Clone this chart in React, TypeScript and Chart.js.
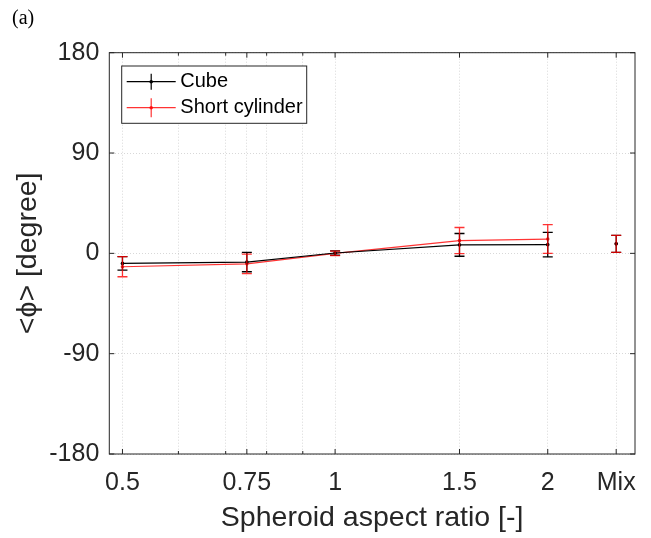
import { useEffect, useRef } from "react";
import { Chart, registerables } from "chart.js";
import type { ChartConfiguration, Plugin } from "chart.js";

Chart.register(...registerables);

// aspect ratios; "Mix" is plotted at 2.5 on the log axis
const xValues = [0.5, 0.75, 1, 1.5, 2, 2.5];
const xTickLabels = ["0.5", "0.75", "1", "1.5", "2", "Mix"];
const xMinorTicks = [0.6, 0.7, 0.8, 0.9];
const yTicks = [-180, -90, 0, 90, 180];

const cubeMean = [-9, -7.8, 0.3, 7.6, 7.8, 8.5];
const cubeErr = [6, 8.7, 2, 10.2, 11, 7.6];
const cylMean = [-12, -9.4, 0, 11.5, 12.8, 8.5];
const cylErr = [9, 8.7, 2, 11.7, 12.9, 7.6];

const FONT = "'Liberation Sans', Arial, Helvetica, sans-serif";
const INK = "#262626";
const RED = "rgba(255,0,0,0.8)";

const decorations: Plugin<"line"> = {
  id: "decorations",
  afterDatasetsDraw(chart) {
    const { ctx, scales } = chart;
    const xs = scales.x;
    const ys = scales.y;
    chart.data.datasets.forEach((ds: any) => {
      ctx.save();
      ctx.strokeStyle = ds.borderColor;
      ctx.lineWidth = 1.3;
      ds.data.forEach((p: any, i: number) => {
        const x = xs.getPixelForValue(p.x);
        const top = ys.getPixelForValue(p.y + ds.errors[i]);
        const bot = ys.getPixelForValue(p.y - ds.errors[i]);
        ctx.beginPath();
        ctx.moveTo(x, top);
        ctx.lineTo(x, bot);
        ctx.moveTo(x - 5, top);
        ctx.lineTo(x + 5, top);
        ctx.moveTo(x - 5, bot);
        ctx.lineTo(x + 5, bot);
        ctx.stroke();
      });
      ctx.restore();
    });
  },
  afterDraw(chart) {
    const { ctx, chartArea: a, scales } = chart;
    const xs = scales.x;
    const ys = scales.y;
    ctx.save();

    // axes box with inward ticks
    ctx.strokeStyle = INK;
    ctx.lineWidth = 1;
    ctx.strokeRect(a.left, a.top, a.right - a.left, a.bottom - a.top);
    ctx.beginPath();
    const tickX = (v: number, len: number) => {
      const x = xs.getPixelForValue(v);
      ctx.moveTo(x, a.bottom);
      ctx.lineTo(x, a.bottom - len);
      ctx.moveTo(x, a.top);
      ctx.lineTo(x, a.top + len);
    };
    xValues.forEach((v) => tickX(v, 5));
    xMinorTicks.forEach((v) => tickX(v, 3));
    yTicks.forEach((v) => {
      const y = ys.getPixelForValue(v);
      ctx.moveTo(a.left, y);
      ctx.lineTo(a.left + 5, y);
      ctx.moveTo(a.right, y);
      ctx.lineTo(a.right - 5, y);
    });
    ctx.stroke();

    // legend
    const lx = a.left + 12.4;
    const ly = a.top + 13.3;
    const lw = 185;
    const lh = 57.3;
    ctx.fillStyle = "#fff";
    ctx.fillRect(lx, ly, lw, lh);
    ctx.strokeStyle = INK;
    ctx.strokeRect(lx, ly, lw, lh);
    ctx.font = `20px ${FONT}`;
    ctx.textBaseline = "middle";
    chart.data.datasets.forEach((ds: any, i: number) => {
      const y = ly + 15.7 + i * 26;
      const half = i === 0 ? 8 : 9.5;
      ctx.strokeStyle = ds.borderColor;
      ctx.lineWidth = 1.2;
      ctx.beginPath();
      ctx.moveTo(lx + 5, y);
      ctx.lineTo(lx + 54, y);
      ctx.moveTo(lx + 29.5, y - half);
      ctx.lineTo(lx + 29.5, y + half);
      ctx.stroke();
      ctx.fillStyle = ds.borderColor;
      ctx.beginPath();
      ctx.arc(lx + 29.5, y, 1.8, 0, Math.PI * 2);
      ctx.fill();
      ctx.fillStyle = "#000";
      ctx.fillText(ds.label, lx + 58.6, y);
    });

    // panel label
    ctx.fillStyle = "#000";
    ctx.font = "20px 'Liberation Serif', 'Times New Roman', serif";
    ctx.textBaseline = "alphabetic";
    ctx.fillText("(a)", 12, 24);
    ctx.restore();
  },
};

const makeSeries = (label: string, means: number[], errs: number[], color: string) => ({
  label,
  data: xValues.map((x, i) => ({ x, y: means[i] })),
  errors: errs,
  borderColor: color,
  backgroundColor: color,
  borderWidth: 1.2,
  pointRadius: 1.8,
  pointBorderWidth: 0,
  pointBackgroundColor: color,
  tension: 0,
  segment: {
    // the Mix point stands alone
    borderColor: (c: any) => (c.p1DataIndex === xValues.length - 1 ? "transparent" : color),
  },
});

export default function App() {
  const canvasRef = useRef<HTMLCanvasElement | null>(null);

  useEffect(() => {
    if (!canvasRef.current) return;
    const config: ChartConfiguration<"line"> = {
      type: "line",
      data: {
        datasets: [
          makeSeries("Cube", cubeMean, cubeErr, "#000000") as any,
          makeSeries("Short cylinder", cylMean, cylErr, RED) as any,
        ],
      },
      options: {
        animation: false,
        responsive: true,
        maintainAspectRatio: false,
        layout: { padding: { top: 52.7, right: 16, left: 0, bottom: 0 } },
        plugins: { legend: { display: false }, tooltip: { enabled: false } },
        scales: {
          x: {
            type: "logarithmic",
            min: 0.479,
            max: 2.658,
            afterBuildTicks: (scale) => {
              scale.ticks = [...xValues, ...xMinorTicks]
                .sort((p, q) => p - q)
                .map((v) => ({ value: v }));
            },
            afterFit: (scale) => {
              scale.height = 84;
            },
            grid: {
              color: "rgba(38,38,38,0.18)",
              drawTicks: false,
            },
            border: { display: false, dash: [1, 2] },
            ticks: {
              autoSkip: false,
              maxRotation: 0,
              padding: 14,
              color: INK,
              font: { family: FONT, size: 25 },
              callback: (value) => {
                const i = xValues.indexOf(Number(value));
                return i >= 0 ? xTickLabels[i] : "";
              },
            },
            title: {
              display: true,
              text: "Spheroid aspect ratio [-]",
              color: INK,
              font: { family: FONT, size: 28.5 },
              padding: { top: 0, bottom: 3 },
            },
          },
          y: {
            type: "linear",
            min: -180,
            max: 180,
            afterBuildTicks: (scale) => {
              scale.ticks = yTicks.map((v) => ({ value: v }));
            },
            afterFit: (scale) => {
              scale.width = 109.3;
            },
            grid: {
              color: "rgba(38,38,38,0.18)",
              drawTicks: false,
            },
            border: { display: false, dash: [1, 2] },
            ticks: {
              padding: 10,
              color: INK,
              font: { family: FONT, size: 25 },
            },
            title: {
              display: true,
              text: "<ϕ> [degree]",
              color: INK,
              font: { family: FONT, size: 28.5 },
              padding: { top: 11, bottom: 0 },
            },
          },
        },
      },
      plugins: [decorations],
    };
    const chart = new Chart(canvasRef.current, config);
    return () => chart.destroy();
  }, []);

  return (
    <div style={{ position: "fixed", left: 0, top: 0, width: 651, height: 538, background: "#fff" }}>
      <canvas ref={canvasRef} />
    </div>
  );
}
